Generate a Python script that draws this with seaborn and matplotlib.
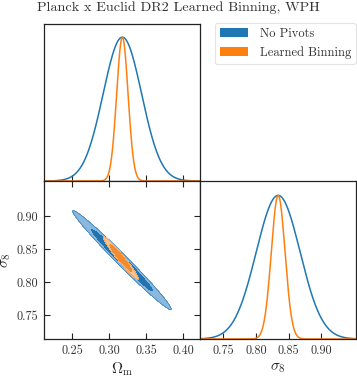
import numpy as np
import pandas as pd
import matplotlib
matplotlib.use("Agg")
import matplotlib.pyplot as plt
from matplotlib.patches import Patch
import seaborn as sns

# ---------------- data ----------------
series_names = ["No Pivots", "Learned Binning"]
line_colors = ["#1f77b4", "#ff7f0e"]
fill_colors = [["#8ab8de", "#2274b0"], ["#f7c496", "#f58a2c"]]

# 1D marginal posteriors (peak position, width) per series
om_mean = [0.318, 0.318]
om_sigma = [0.026, 0.0077]
s8_mean = [0.834, 0.834]
s8_sigma = [0.0335, 0.0105]

# 2D contours (centre, widths, correlation) per series
c2_om_mean = [0.3175, 0.316]
c2_s8_mean = [0.8335, 0.8365]
c2_om_sigma = [0.0272, 0.0098]
c2_s8_sigma = [0.0305, 0.0133]
c2_rho = [-0.988, -0.97]
contour_mass = [0.95, 0.68]

om_ticks = [0.25, 0.30, 0.35, 0.40]
om_ticklabels = ["0.25", "0.30", "0.35", "0.40"]
s8_ticks = [0.75, 0.80, 0.85, 0.90]
s8_ticklabels = ["0.75", "0.80", "0.85", "0.90"]
om_lim = (0.212, 0.423)
s8_lim = (0.7145, 0.953)

title = "Planck x Euclid DR2 Learned Binning, WPH"
om_label = r"$\Omega_{\rm m}$"
s8_label = r"$\sigma_8$"

# ---------------- style ----------------
sns.set_style("white")
plt.rcParams["font.family"] = ["cmr10", "DejaVu Serif"]
plt.rcParams["mathtext.fontset"] = "cm"
plt.rcParams["axes.formatter.use_mathtext"] = True
plt.rcParams["axes.edgecolor"] = "#222222"
plt.rcParams["axes.linewidth"] = 0.9

W, H = 357, 379
fig = plt.figure(figsize=(W / 100, H / 100), dpi=100)


def rect(x0, y0, x1, y1):
    return [x0 / W, 1 - y1 / H, (x1 - x0) / W, (y1 - y0) / H]


ax_om = fig.add_axes(rect(44, 23.5, 200, 181))
ax_2d = fig.add_axes(rect(44, 181, 200, 339))
ax_s8 = fig.add_axes(rect(200, 181, 356, 339))


def gauss(x, m, s):
    return np.exp(-0.5 * ((x - m) / s) ** 2)


# 1D panels
x_om = np.linspace(om_lim[0], om_lim[1], 600)
x_s8 = np.linspace(s8_lim[0], s8_lim[1], 600)
for i, name in enumerate(series_names):
    d1 = pd.DataFrame({"x": x_om, "p": gauss(x_om, om_mean[i], om_sigma[i])})
    sns.lineplot(data=d1, x="x", y="p", ax=ax_om, color=line_colors[i], lw=1.1)
    d2 = pd.DataFrame({"x": x_s8, "p": gauss(x_s8, s8_mean[i], s8_sigma[i])})
    sns.lineplot(data=d2, x="x", y="p", ax=ax_s8, color=line_colors[i], lw=1.1)

# 2D panel
gx, gy = np.meshgrid(np.linspace(om_lim[0], om_lim[1], 600),
                     np.linspace(s8_lim[0], s8_lim[1], 600))
for i in range(len(series_names)):
    u = (gx - c2_om_mean[i]) / c2_om_sigma[i]
    v = (gy - c2_s8_mean[i]) / c2_s8_sigma[i]
    r = c2_rho[i]
    chi2 = (u * u - 2 * r * u * v + v * v) / (1 - r * r)
    dens = np.exp(-0.5 * chi2)
    levels = [1 - m for m in contour_mass] + [1.01]
    ax_2d.contourf(gx, gy, dens, levels=levels, colors=fill_colors[i], zorder=2 + i)
    ax_2d.contour(gx, gy, dens, levels=levels[:-1], colors=[fill_colors[i][1]] * 2,
                  linewidths=0.4, zorder=2 + i)

# axes formatting
for ax in (ax_om, ax_2d, ax_s8):
    ax.set_xlabel("")
    ax.set_ylabel("")
    for sp in ax.spines.values():
        sp.set_color("#222222")
        sp.set_linewidth(0.9)

ax_om.set_xlim(om_lim)
ax_om.set_ylim(0, 1.095)
ax_om.set_xticks(om_ticks)
ax_om.set_xticklabels([])
ax_om.set_yticks([])
ax_om.tick_params(axis="x", direction="in", length=4, width=0.8, bottom=True, color="#222222")

ax_s8.set_xlim(s8_lim)
ax_s8.set_ylim(0, 1.1)
ax_s8.set_xticks(s8_ticks)
ax_s8.set_xticklabels(s8_ticklabels)
ax_s8.set_yticks([])
ax_s8.tick_params(axis="x", direction="in", length=4, width=0.8, bottom=True,
                  labelsize=8.8, pad=4.5, labelcolor="#333333", color="#222222")
ax_s8.set_xlabel(s8_label, fontsize=11, labelpad=2.5)

ax_2d.set_xlim(om_lim)
ax_2d.set_ylim(s8_lim)
ax_2d.set_xticks(om_ticks)
ax_2d.set_xticklabels(om_ticklabels)
ax_2d.set_yticks(s8_ticks)
ax_2d.set_yticklabels(s8_ticklabels)
ax_2d.tick_params(direction="in", length=4, width=0.8, top=True, right=True,
                  bottom=True, left=True, labelsize=8.8, pad=4.5,
                  labelcolor="#333333", color="#222222")
ax_2d.set_xlabel(om_label, fontsize=11, labelpad=2.5)
ax_2d.set_ylabel(s8_label, fontsize=11, labelpad=2)

fig.suptitle(title, x=0.5, y=0.997, fontsize=10.2, color="#333333", va="top")

handles = [Patch(facecolor=line_colors[i], edgecolor="none", label=series_names[i])
           for i in range(len(series_names))]
leg = fig.legend(handles=handles, loc="upper right", bbox_to_anchor=(0.997, 0.939),
                 borderaxespad=0, fontsize=9, frameon=True, fancybox=True,
                 handlelength=2.3, handleheight=0.75, labelspacing=0.5,
                 handletextpad=0.9, borderpad=0.4)
leg.get_frame().set_edgecolor("#dddddd")
leg.get_frame().set_linewidth(0.8)
for t in leg.get_texts():
    t.set_color("#333333")

fig.savefig("out.png", dpi=100)
